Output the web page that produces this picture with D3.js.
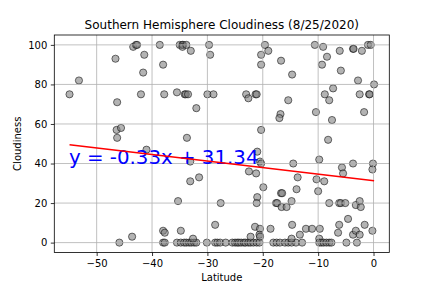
<!DOCTYPE html>
<html>
<head>
<meta charset="utf-8">
<script src="https://cdn.jsdelivr.net/npm/d3@7"></script>
<style>
  body { margin: 0; background: #fff; }
  svg text { font-family: "DejaVu Sans", sans-serif; }
</style>
</head>
<body>
<div id="viz"></div>
<script>
// values
const latitude = [
  -54.9, -53.2, -46.6, -46.3, -46.4, -45.6, -46.3, -45.9, -43.6, -43.4,
  -42.9, -42.7, -41.4, -41.6, -42.0, -41.0, -38.6, -38.0, -37.8, -38.0,
  -37.7, -38.0, -37.7, -35.5, -35.3, -35.5, -34.8, -35.0, -34.5, -34.4,
  -34.5, -33.8, -33.0, -34.1, -33.9, -33.5, -33.7, -33.1, -33.1, -31.5,
  -32.0, -34.8, -34.2, -33.8, -33.3, -32.9, -32.4, -32.0, -32.6, -29.7,
  -29.5, -30.0, -28.9, -30.1, -28.6, -28.6, -28.2, -27.7, -27.6, -26.7,
  -25.5, -25.0, -24.6, -24.3, -23.9, -23.4, -23.1, -22.6, -22.2, -21.7,
  -21.1, -20.6, -22.2, -21.4, -20.5, -20.6, -20.5, -23.0, -22.6, -21.3,
  -21.1, -22.5, -21.2, -20.5, -20.3, -21.0, -20.3, -19.9, -21.0, -21.1,
  -19.6, -19.0, -20.3, -20.3, -18.6, -18.1, -17.5, -17.6, -17.4, -16.7,
  -16.5, -16.6, -15.7, -16.8, -17.0, -16.7, -15.4, -14.7, -14.8, -14.5,
  -13.7, -13.9, -14.7, -13.3, -16.9, -16.0, -15.4, -14.8, -14.0, -12.9,
  -14.8, -12.2, -11.1, -9.7, -9.8, -9.8, -9.4, -9.0, -8.5, -8.0,
  -7.6, -10.6, -9.1, -8.4, -9.3, -8.8, -8.0, -10.4, -7.5, -8.2,
  -9.8, -10.3, -8.9, -10.0, -8.0, -6.2, -5.9, -5.1, -6.1, -5.9,
  -7.3, -5.7, -5.5, -6.2, -6.4, -4.6, -4.9, -3.7, -3.6, -2.1,
  -1.0, -0.5, -2.8, 0.1, -2.5, -0.8, -0.7, -1.7, -3.7, -0.1,
  -0.2, -3.2, -2.5, -2.3, -3.7, -3.2, -2.5, -1.6, -0.2, -3.0
];
const cloudiness = [
  75, 82, 93, 71, 57, 58, 53, 0, 3, 99,
  100, 100, 95, 86, 75, 47, 100, 90, 75, 6,
  5, 0, 0, 76, 21, 0, 6, 100, 100, 100,
  99, 100, 97, 75, 75, 75, 53, 41, 31, 33,
  68, 0, 0, 0, 0, 0, 0, 0, 2, 100,
  95, 75, 75, 0, 9, 0, 0, 0, 20, 0,
  0, 0, 0, 0, 0, 0, 0, 0, 0, 0,
  0, 0, 3, 8, 7, 4, 3, 75, 73, 75,
  75, 36, 35, 41, 40, 46, 57, 28, 23, 20,
  100, 97, 95, 90, 7, 0, 0, 20, 20, 25,
  25, 18, 18, 65, 63, 92, 72, 85, 21, 40,
  33, 27, 9, 4, 0, 0, 0, 0, 0, 0,
  2, 7, 7, 7, 2, 0, 0, 0, 0, 0,
  0, 100, 99, 94, 90, 75, 72, 66, 62, 52,
  42, 32, 31, 26, 20, 20, 20, 20, 97, 87,
  78, 38, 35, 9, 5, 12, 0, 98, 98, 97,
  100, 100, 82, 80, 75, 75, 75, 66, 40, 40,
  37, 19, 21, 18, 4, 6, 4, 9, 6, 0
];
const slope = -0.33;
const intercept = 31.34;
const xTicks = [-50, -40, -30, -20, -10, 0];
const yTicks = [0, 20, 40, 60, 80, 100];

const width = 432;
const height = 288;
const margin = { left: 54.3, right: 42.7, top: 35, bottom: 35.5 };

const svg = d3.select("#viz").append("svg")
    .attr("width", width)
    .attr("height", height)

const points = latitude.map((lat, i) => ({ lat: lat, cloud: cloudiness[i] }))

// matplotlib style 5% margins
const ext = d3.extent(latitude)
const pad = (ext[1] - ext[0]) * 0.05

const x = d3.scaleLinear()
    .domain([ext[0] - pad, ext[1] + pad])
    .range([margin.left, width - margin.right])

const y = d3.scaleLinear()
    .domain([-5, 105])
    .range([height - margin.bottom, margin.top])

const fmt = d => d < 0 ? "\u2212" + Math.abs(d) : String(d)

// points
svg.append("g")
    .selectAll("circle")
    .data(points)
    .enter()
    .append("circle")
    .attr("cx", d => x(d.lat))
    .attr("cy", d => y(d.cloud))
    .attr("r", 3.6)
    .attr("fill", "#808080")
    .attr("fill-opacity", 0.6)
    .attr("stroke", "#000")
    .attr("stroke-opacity", 0.6)
    .attr("stroke-width", 0.9)

// grid
const grid = svg.append("g")
    .attr("stroke", "#b0b0b0")
    .attr("stroke-width", 0.8)
grid.selectAll(".gx")
    .data(xTicks)
    .enter()
    .append("line")
    .attr("x1", d => x(d)).attr("x2", d => x(d))
    .attr("y1", margin.top).attr("y2", height - margin.bottom)
grid.selectAll(".gy")
    .data(yTicks)
    .enter()
    .append("line")
    .attr("x1", margin.left).attr("x2", width - margin.right)
    .attr("y1", d => y(d)).attr("y2", d => y(d))

svg.append("text")
    .attr("x", x(-55))
    .attr("y", y(40))
    .attr("fill", "blue")
    .attr("font-size", 19.8)
    .text("y = " + slope + "x + " + intercept)

// regression line, on top of the equation text
const lineData = [ext[0], ext[1]].map(v => ({ lat: v, cloud: slope * v + intercept }))
svg.append("path")
    .datum(lineData)
    .attr("d", d3.line().x(d => x(d.lat)).y(d => y(d.cloud)))
    .attr("stroke", "red")
    .attr("stroke-width", 1.5)
    .attr("fill", "none")

// axes
const xAxis = svg.append("g")
    .attr("transform", `translate(0,${height - margin.bottom})`)
    .call(d3.axisBottom(x).tickValues(xTicks).tickFormat(fmt).tickSizeInner(3.5).tickSizeOuter(0).tickPadding(3.5))
const yAxis = svg.append("g")
    .attr("transform", `translate(${margin.left},0)`)
    .call(d3.axisLeft(y).tickValues(yTicks).tickFormat(fmt).tickSizeInner(3.5).tickSizeOuter(0).tickPadding(3.5))

for (const ax of [xAxis, yAxis]) {
    ax.selectAll("text").attr("font-size", 10).attr("fill", "#000").attr("font-family", "DejaVu Sans, sans-serif")
    ax.selectAll("line").attr("stroke", "#000").attr("stroke-width", 0.8)
    ax.select(".domain").remove()
}

svg.append("rect")
    .attr("x", margin.left)
    .attr("y", margin.top)
    .attr("width", width - margin.left - margin.right)
    .attr("height", height - margin.top - margin.bottom)
    .attr("fill", "none")
    .attr("stroke", "#000")
    .attr("stroke-width", 0.8)

svg.append("text")
    .attr("x", (margin.left + width - margin.right) / 2)
    .attr("y", 29)
    .attr("text-anchor", "middle")
    .attr("font-size", 12)
    .text("Southern Hemisphere Cloudiness (8/25/2020)")

svg.append("text")
    .attr("x", (margin.left + width - margin.right) / 2)
    .attr("y", 281)
    .attr("text-anchor", "middle")
    .attr("font-size", 10)
    .text("Latitude")

svg.append("text")
    .attr("transform", `translate(21,${(margin.top + height - margin.bottom) / 2}) rotate(-90)`)
    .attr("text-anchor", "middle")
    .attr("font-size", 10)
    .text("Cloudiness")
</script>
</body>
</html>
